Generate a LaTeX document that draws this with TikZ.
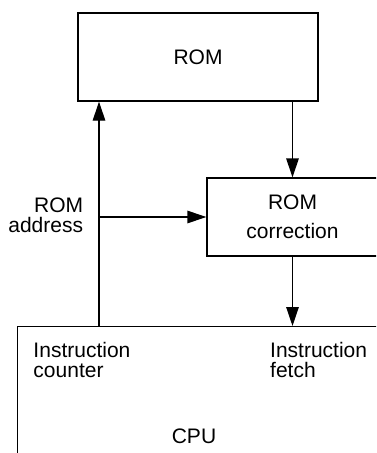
\documentclass[tikz,border=0pt]{standalone}
\usepackage{fontspec}
\setmainfont{Liberation Sans}
\usetikzlibrary{arrows.meta,calc}
\tikzset{
  box/.style={draw=black,line width=1.3pt,inner sep=0pt,align=center,
              font=\fontsize{21}{29.4}\selectfont},
  ar/.style ={-{Triangle[length=19pt,width=12.5pt]},line width=1.3pt},
  lbl/.style={inner sep=0pt,font=\fontsize{21}{20.5}\selectfont},
}

\begin{document}
\begin{tikzpicture}[x=1pt,y=-1pt]
  \useasboundingbox (0,0) rectangle (376,453);
  \clip (0,0) rectangle (376,453);
  % memory blocks
  \node[box,minimum width=240pt,minimum height=88pt] (rom) at (198,57){ROM};
  \node[box,minimum width=171pt,minimum height=78pt] (romcorr) at (292.5,217){ROM\\correction};
  % cpu, cut off at the page edge
  \node[box,minimum width=420pt,minimum height=160pt,anchor=north west] (cpu) at (17,326){};
  \node[lbl,anchor=base] (cputxt) at (194,443){CPU};
  \node[lbl,anchor=north west,align=left] (icnt) at (33.3,341.7){Instruction\\counter};
  \node[lbl,anchor=north west,align=left] (ifetch) at (270,341.7){Instruction\\fetch};
  \node[lbl,anchor=north east,align=right] (addr) at (83.3,197.3){ROM\\address};
  % connectors
  \coordinate (ic) at (99,326);
  \draw[ar] (ic) -- (ic |- rom.south);
  \draw[ar] (ic |- romcorr.west) -- (romcorr.west);
  \draw[ar] (romcorr.north |- rom.south) -- (romcorr.north);
  \draw[ar] (romcorr.south) -- (romcorr.south |- cpu.north);
\end{tikzpicture}
\end{document}
